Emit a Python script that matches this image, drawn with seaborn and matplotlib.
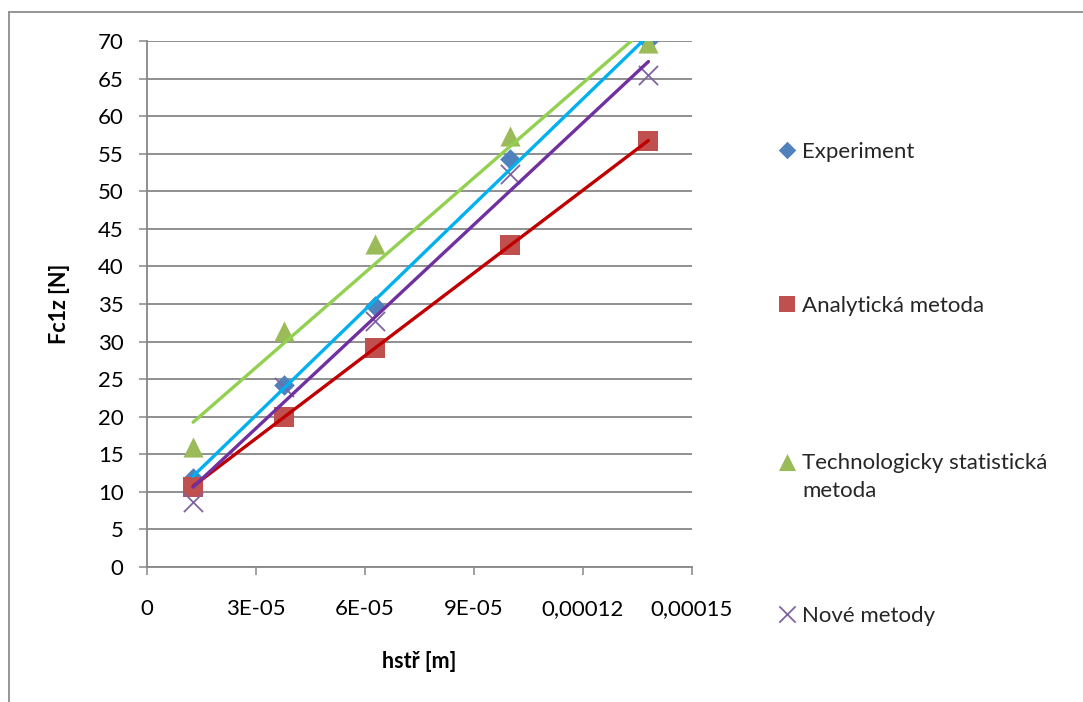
import numpy as np
import pandas as pd
import matplotlib
matplotlib.use("Agg")
import matplotlib.pyplot as plt
import seaborn as sns
from matplotlib.lines import Line2D

# ---- data ----
h_str = [1.27e-5, 3.77e-5, 6.28e-5, 1.0e-4, 1.38e-4]
experiment = [11.8, 24.2, 34.8, 54.3, 70.0]
analyticka = [10.7, 20.0, 29.1, 42.9, 56.7]
technologicka = [16.0, 31.4, 43.0, 57.3, 69.7]
nove = [8.6, 24.0, 32.8, 52.3, 65.5]

series_names = ["Experiment", "Analytická metoda",
                "Technologicky statistická\nmetoda", "Nové metody"]
x_ticks = [0, 3e-5, 6e-5, 9e-5, 1.2e-4, 1.5e-4]
x_tick_labels = ["0", "3E-05", "6E-05", "9E-05", "0,00012", "0,00015"]
y_ticks = list(range(0, 71, 5))
x_label = "hstř [m]"
y_label = "Fc1z [N]"

# ---- styles ----
marker_colors = ["#4F81BD", "#C0504D", "#9BBB59", "#8064A2"]
trend_colors = ["#00B0F0", "#C00000", "#92D050", "#7030A0"]
markers = ["D", "s", "^", "x"]
sizes = [110, 200, 210, 190]
grid_col = "#878787"

sns.set_theme(style="white")
plt.rcParams["font.family"] = ["Lato", "DejaVu Sans"]

frames = []
for name, vals in zip(series_names, [experiment, analyticka, technologicka, nove]):
    frames.append(pd.DataFrame({"h": h_str, "F": vals, "series": name}))
df = pd.concat(frames, ignore_index=True)

fig = plt.figure(figsize=(10.83, 7.02), dpi=100)
W, H = 1083, 702
ax = fig.add_axes([147 / W, 1 - 567 / H, (692 - 147) / W, (567 - 41) / H])

handles = []
for i, name in enumerate(series_names):
    sub = df[df["series"] == name]
    if markers[i] == "x":
        sns.scatterplot(data=sub, x="h", y="F", marker="x", s=sizes[i],
                        color=marker_colors[i], linewidth=1.3, ax=ax,
                        zorder=3, label=name, legend=False)
    else:
        sns.scatterplot(data=sub, x="h", y="F", marker=markers[i], s=sizes[i],
                        color=marker_colors[i], linewidth=0, ax=ax,
                        zorder=3, label=name, legend=False)
    handles.append(ax.collections[-1])

for i, name in enumerate(series_names):
    sub = df[df["series"] == name]
    sns.regplot(data=sub, x="h", y="F", scatter=False, ci=None, truncate=True,
                color=trend_colors[i], line_kws={"lw": 2.4, "zorder": 4}, ax=ax)

ax.set_xlim(0, 1.5e-4)
ax.set_ylim(0, 70)
ax.set_xticks(x_ticks)
ax.set_xticklabels(x_tick_labels)
ax.set_yticks(y_ticks)
ax.set_yticklabels([str(v) for v in y_ticks])
ax.yaxis.grid(True, color=grid_col, lw=1.3)
ax.xaxis.grid(False)
ax.set_axisbelow(True)
for s in ["top", "right"]:
    ax.spines[s].set_visible(False)
for s in ["left", "bottom"]:
    ax.spines[s].set_color(grid_col)
    ax.spines[s].set_linewidth(1.3)
ax.tick_params(axis="both", direction="out", length=5.8, width=1.1,
               color=grid_col, labelsize=16, labelcolor="black")
ax.tick_params(axis="y", pad=11, left=True)
ax.tick_params(axis="x", pad=17, bottom=True)

ax.set_xlabel(x_label, fontsize=15.5, fontweight="bold", color="black")
ax.set_ylabel(y_label, fontsize=15.5, fontweight="bold", color="black")
ax.xaxis.set_label_coords(0.5, (567 - 661) / 526)
ax.yaxis.set_label_coords((60 - 147) / 545, 0.5)
ax.xaxis.label.set_va("center")
ax.yaxis.label.set_va("center")

# legend entries, spread like the original
leg_y = [152, 306, 477, 616]
y_off = [0.5, 0.5, 1.5, 0.5]
for i, name in enumerate(series_names):
    leg = ax.legend(handles=[handles[i]], labels=[name], loc="center left",
                    bbox_to_anchor=(778 / W, 1 - leg_y[i] / H),
                    bbox_transform=fig.transFigure, frameon=False,
                    borderpad=0, borderaxespad=0, handlelength=0.8,
                    handletextpad=0.28, scatterpoints=1, scatteryoffsets=[y_off[i]],
                    markerscale=0.85, fontsize=16)
    for t in leg.get_texts():
        t.set_linespacing(1.5)
    if i < len(series_names) - 1:
        ax.add_artist(leg)

# chart area border (top and left visible)
fig.add_artist(Line2D([9 / W, 9 / W], [0, 1 - 12 / H], transform=fig.transFigure,
                      color="#8C8C8C", lw=1.3))
fig.add_artist(Line2D([9 / W, 1], [1 - 12 / H, 1 - 12 / H], transform=fig.transFigure,
                      color="#8C8C8C", lw=1.3))

fig.savefig("out.png", dpi=100)
